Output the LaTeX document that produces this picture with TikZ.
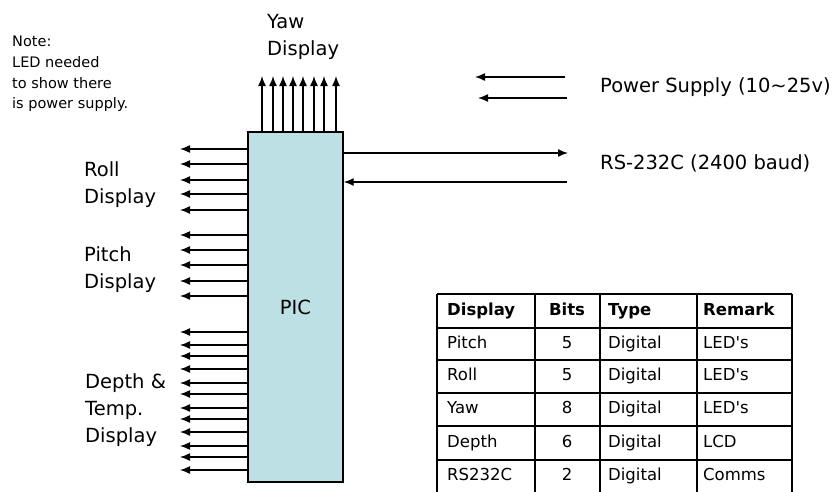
\documentclass[tikz,border=0pt]{standalone}
\usepackage{fontspec}
\setmainfont{DejaVu Sans}
\usepackage{tikz}
\usetikzlibrary{arrows.meta, positioning, calc}

\definecolor{picblue}{RGB}{188,224,228}

\begin{document}
\begin{tikzpicture}[
    x=1pt, y=-1pt,
    >={Latex[length=10pt,width=8pt]},
    sig/.style={->, line width=1.4pt},
    lbl/.style={font=\fontsize{19.5}{27}\selectfont, align=left, inner sep=0pt},
    note/.style={font=\fontsize{14.5}{20.7}\selectfont, align=left, inner sep=0pt},
    cell/.style={font=\fontsize{16.5}{20}\selectfont, inner sep=0pt,
        text height=12pt, text depth=3.5pt},
    hcell/.style={cell, font=\fontsize{16.5}{20}\selectfont\bfseries},
    grid/.style={line width=1.6pt},
]
\useasboundingbox (0,0) rectangle (839,491);

%% Controller
\node[draw, line width=1.4pt, fill=picblue, minimum width=95pt, minimum height=350pt,
    lbl] (pic) at (295.5,307) {PIC};

%% Labels
\node[note, anchor=west] (note) at (12,74) {Note:\\LED needed\\to show there\\is power supply.};
\node[lbl, anchor=west] (yaw)   at (267,36.5) {Yaw\\Display};
\node[lbl, anchor=west] (roll)  at (84,184.5) {Roll\\Display};
\node[lbl, anchor=west] (pitch) at (84,270)   {Pitch\\Display};
\node[lbl, anchor=west] (depth) at (85,410)   {Depth \&\\Temp.\\Display};
\node[lbl, anchor=west] (power) at (600,87)   {Power Supply (10\textasciitilde 25v)};
\node[lbl, anchor=west] (rs)    at (600,163)  {RS-232C (2400 baud)};

%% Yaw outputs
\foreach \x [count=\i] in {262,273,283,293,303,314,324,336} {
    \coordinate (y\i) at (\x,76);
    \draw[sig] (pic.north -| y\i) -- (y\i);
}
%% Roll, pitch, depth outputs
\foreach \y [count=\i] in {149,164,180,194,210, 235,250,265,281,296,
        332,345,356,369,383,394,408,419,432,446,457,470} {
    \coordinate (l\i) at (180,\y);
    \draw[sig] (pic.west |- l\i) -- (l\i);
}

%% Power supply and serial link
\coordinate (p1s) at (565,77);  \coordinate (p1e) at (475,77);
\coordinate (p2s) at (567,98);  \coordinate (p2e) at (478,98);
\coordinate (tx) at (568,153);  \coordinate (rx) at (567,182);
\draw[sig] (p1s) -- (p1e);
\draw[sig] (p2s) -- (p2e);
\draw[sig] (pic.east |- tx) -- (tx);
\draw[sig] (rx) -- (pic.east |- rx);

%% Table
\foreach \x in {437,535,600,697,792}
    \draw[grid] (\x,294) -- (\x,500);
\foreach \y in {294,328,360,393,426,460}
    \draw[grid] (437,\y) -- (792,\y);
\node[hcell, anchor=west] (h1) at (447,311) {Display};
\node[hcell]              (h2) at (567,311) {Bits};
\node[hcell, anchor=west] (h3) at (608,311) {Type};
\node[hcell, anchor=west] (h4) at (703,311) {Remark};
\foreach \ry/\nm/\bt/\ty/\rk [count=\r] in {
        344/Pitch/5/Digital/LED\textquotesingle s,
        376.5/Roll/5/Digital/LED\textquotesingle s,
        409.5/Yaw/8/Digital/LED\textquotesingle s,
        443/Depth/6/Digital/LCD,
        476/RS232C/2/Digital/Comms} {
    \node[cell, anchor=west] (t\r a) at (447,\ry) {\nm};
    \node[cell]              (t\r b) at (567,\ry) {\bt};
    \node[cell, anchor=west] (t\r c) at (608,\ry) {\ty};
    \node[cell, anchor=west] (t\r d) at (703,\ry) {\rk};
}
\end{tikzpicture}
\end{document}
